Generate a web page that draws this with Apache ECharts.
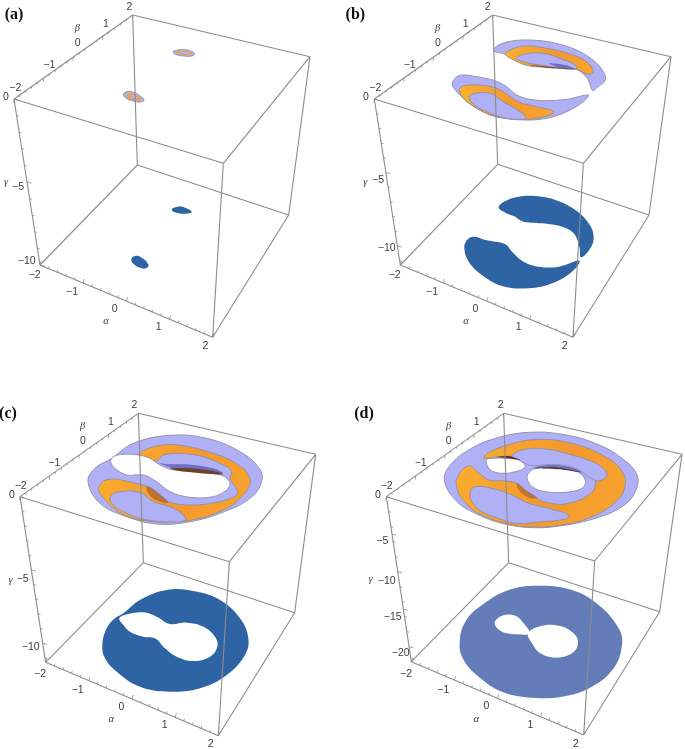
<!DOCTYPE html>
<html><head><meta charset="utf-8">
<style>html,body{margin:0;padding:0;background:#fff}#c{width:685px;height:749px;filter:blur(0.45px)}</style>
<script src="https://cdn.jsdelivr.net/npm/echarts@6/dist/echarts.min.js"></script>
</head><body><div id="c"></div>
<script>
// ---- panel frames: cube corners [x,y] (units: 1/3 px of each panel)
// order: backTop, rightTop, frontTop, leftTop, backBottom, rightBottom, frontBottom, leftBottom
const cubeA=[[398,45],[930,170],[670,490],[42,297],[412,495],[866,645],[638,1012],[120,795]];
const cubeB=[[452,45],[987,170],[724,490],[97,297],[467,493],[921,645],[693,1012],[175,795]];
const cubeC=[[415,115],[947,238],[688,560],[60,365],[430,563],[884,713],[655,1082],[137,862]];
const cubeD=[[485,115],[1020,238],[758,558],[133,365],[500,563],[953,710],[725,1080],[208,860]];

// ---- tick labels
const labelsA=[["2",388,20],["1",318,72],["0",233,128],["−1",148,194],["−2",46,264],["0",18,290],["−5",54,560],["−10",80,782],["−2",104,826],["−1",216,876],["0",344,926],["1",476,982],["2",616,1038]];
const labelsB=[["2",437,20],["1",371,72],["0",288,128],["−1",203,194],["−2",100,264],["0",72,290],["−5",108,540],["−10",134,745],["−2",158,826],["−1",270,876],["0",400,926],["1",530,982],["2",668,1038]];
const labelsC=[["2",403,90],["1",333,142],["0",249,198],["−1",163,264],["−2",62,332],["0",36,360],["−5",68,612],["−10",92,815],["−2",120,896],["−1",233,946],["0",364,997],["1",494,1050],["2",632,1106]];
const labelsD=[["2",476,90],["1",404,142],["0",320,198],["−1",236,264],["−2",134,332],["0",108,360],["−5",121,497],["−10",134,617],["−15",152,727],["−20",176,835],["−2",192,896],["−1",304,946],["0",433,994],["1",565,1050],["2",702,1106]];
const axisNamesA=[["β",232,85],["γ",18,548],["α",318,964]];
const axisNamesB=[["β",287,85],["γ",70,548],["α",372,964]];
const axisNamesC=[["β",248,155],["γ",32,616],["α",334,1034]];
const axisNamesD=[["β",320,155],["γ",86,612],["α",403,1034]];

// ---- minor-tick counts along γ for each panel
const gammaTicksA=[0,-1,-2,-3,-4,-5,-6,-7,-8,-9,-10];
const gammaTicksB=[0,-1,-2,-3,-4,-5,-6,-7,-8,-9,-10,-11];
const gammaTicksC=[0,-1,-2,-3,-4,-5,-6,-7,-8,-9,-10,-11];
const gammaTicksD=[0,-2,-4,-5,-6,-8,-10,-12,-14,-15,-16,-18,-20,-22];
const abTicks=[-2,-1.8,-1.6,-1.4,-1.2,-1,-.8,-.6,-.4,-.2,0,.2,.4,.6,.8,1,1.2,1.4,1.6,1.8,2];

// ---- contour outlines, panel a
const aPurple=[[[519,156],[530,151],[550,149],[572,153],[584,162],[575,168],[552,168],[530,164]],[[370,283],[380,275],[400,277],[420,288],[432,300],[420,306],[400,303],[380,296]]];
const aOrange=[[[527,156],[545,152],[565,155],[577,162],[560,165],[540,163]],[[378,285],[392,280],[410,286],[425,299],[410,303],[390,297]]];
const aInner=[[[538,157],[552,155],[566,160],[552,162]],[[390,286],[402,286],[414,295],[402,297]]];
const aBlue=[[[515,629],[530,621],[555,623],[575,636],[555,641],[530,638]],[[394,778],[405,768],[425,773],[445,793],[440,804],[420,803],[402,793]]];
// panel b
const bPurple=[[[454,152],[469,135],[509,123],[564,120],[634,128],[704,150],[759,185],[784,215],[790,240],[766,262],[752,272],[739,240],[724,222],[700,207],[640,200],[570,192],[530,178],[490,162]],
 [[331,255],[339,235],[359,225],[404,230],[459,242],[494,260],[524,285],[564,298],[614,302],[674,298],[739,285],[724,305],[674,335],[614,355],[544,360],[464,350],[404,325],[354,285]]];
const bOrange=[[[489,162],[504,150],[549,138],[614,145],[684,162],[734,185],[754,215],[739,223],[709,210],[679,207],[614,202],[559,197],[519,182]],
 [[352,270],[364,258],[404,255],[454,262],[489,278],[529,305],[584,320],[636,335],[614,348],[556,358],[494,355],[444,345],[394,318],[364,295]]];
const bInner=[[[524,175],[549,162],[604,160],[654,175],[699,195],[702,208],[664,205],[594,195],[554,188]],
 [[382,290],[399,280],[444,280],[484,305],[534,335],[552,355],[494,355],[434,335],[394,312]]];
const bDarkPurple=[[[620,190],[670,195],[699,207],[650,202]]];
const bBrown=[[[560,194],[620,200],[700,207],[620,204]]];
const bBlue=[[[470,622],[490,603],[530,590],[580,588],[640,600],[700,630],[740,670],[755,710],[745,745],[717,772],[712,740],[695,700],[660,680],[600,670],[545,665],[515,648],[490,638]],
 [[367,745],[375,720],[395,710],[430,720],[490,733],[510,755],[545,785],[590,800],[650,800],[712,782],[690,815],[630,850],[560,865],[480,858],[420,825],[380,785]]];
// panel c
const cPurple=[[[264,320],[285,280],[335,250],[400,205],[510,181],[620,190],[720,230],[778,280],[785,320],[750,370],[660,415],[560,442],[470,447],[380,425],[300,385]]];
const cOrange=[[[295,345],[310,318],[345,312],[420,328],[455,340],[490,372],[530,387],[590,390],[660,380],[708,362],[712,345],[690,312],[695,290],[680,275],[610,245],[540,235],[490,240],[470,258],[415,238],[450,218],[510,208],[590,220],[680,250],[735,285],[752,320],[735,355],[690,395],[620,425],[560,438],[490,442],[420,435],[370,420],[325,385]]];
const cInner=[[[330,370],[350,352],[420,352],[460,380],[510,395],[550,420],[555,437],[490,440],[420,430],[370,410],[340,390]]];
const cDarkPurple=[[[480,265],[505,268],[560,268],[640,280],[670,295],[610,285],[520,280]]];
const cBrown=[[[510,280],[570,280],[640,288],[670,298],[620,296],[540,288]]];
const cShade=[[[440,335],[470,350],[505,382],[480,380],[450,362]]];
const cHole=[[[340,245],[370,238],[415,240],[450,250],[480,270],[520,285],[620,292],[670,303],[690,325],[680,345],[640,365],[570,367],[510,350],[470,320],[430,300],[380,300],[345,280],[332,260]]];
const cBlue=[[[307,810],[320,760],[345,730],[370,715],[420,675],[500,645],[580,648],[660,675],[720,730],[745,790],[735,840],[680,900],[600,940],[510,950],[420,935],[350,890],[315,850]]];
const cBlueHole=[[[358,730],[385,717],[430,712],[470,725],[510,747],[560,743],[610,755],[645,785],[652,815],[630,845],[580,858],[530,845],[495,820],[465,790],[430,785],[390,770],[370,750]]];
// panel d
const dPurple=[[[307,315],[325,270],[380,225],[460,190],[560,172],[660,178],[760,205],[840,250],[885,300],[880,350],[840,395],[760,430],[660,452],[570,458],[480,445],[400,415],[340,375]]];
const dOrange=[[[425,250],[440,232],[490,212],[560,195],[640,195],[740,220],[820,265],[850,310],[840,360],[790,405],[710,440],[620,455],[540,455],[470,440],[400,410],[355,365],[342,320],[360,285],[385,272],[405,290],[440,315],[495,318],[525,325],[550,345],[600,378],[660,388],[720,372],[755,345],[760,315],[730,290],[640,262],[560,262],[520,245],[470,245]]];
const dInner=[[[510,245],[540,225],[610,222],[690,240],[770,270],[795,300],[770,318],[740,305],[700,280],[640,268],[570,272],[550,265]],
 [[385,350],[400,335],[450,340],[510,360],[560,385],[620,400],[680,420],[670,432],[600,440],[520,445],[470,430],[420,410],[390,380]]];
const dDarkPurple=[[[575,278],[620,270],[680,275],[720,292],[660,282]]];
const dBrown=[[[465,246],[500,243],[535,255],[500,250]],[[570,280],[640,277],[722,293],[650,283]]];
const dShade=[[[525,325],[550,345],[585,368],[560,368],[530,345]]];
const dHole=[[[432,255],[450,250],[490,250],[530,255],[550,275],[520,290],[480,295],[445,285]],[[555,305],[575,282],[640,277],[700,287],[730,315],[720,340],[670,352],[610,350],[570,335]]];
const dBlue=[[[353,805],[370,740],[420,690],[500,645],[590,632],[690,645],[770,690],[830,760],[840,810],[815,880],[750,935],[660,965],[570,968],[480,950],[410,905],[365,855]]];
const dBlueHole=[[[458,745],[480,722],[520,722],[545,745],[562,775],[525,778],[480,770]],[[558,775],[590,755],[650,752],[695,775],[708,805],[690,835],[640,848],[595,835],[570,805]]];

const PURPLE='#b0b0f6',ORANGE={type:'linear',x:0,y:0,x2:1,y2:1,colorStops:[{offset:0,color:'#fdb02e'},{offset:.55,color:'#f3982e'},{offset:1,color:'#f8a52d'}]};
const BLUE='#2e64a3',BLUE_D='#647cb8',EDGE='#8f8fa6',LINE='#8c8c8c';

const panels=[
 {cube:cubeA,labels:labelsA,names:axisNamesA,gamma:gammaTicksA,gmin:-10,majors:[0,-5,-10],title:'(a)',tx:20,ty:46,
  box:{left:0,top:0,width:342,height:370},
  layers:[[aBlue,BLUE,null,.5],[aPurple,PURPLE,EDGE,.5],[aOrange,'#f0a040',null,.5],[aInner,PURPLE,null,.5]]},
 {cube:cubeB,labels:labelsB,names:axisNamesB,gamma:gammaTicksB,gmin:-11.3,majors:[0,-5,-10],title:'(b)',tx:18,ty:46,
  box:{left:342,top:0,width:343,height:370},
  layers:[[bBlue,BLUE,null,.4],[bPurple,PURPLE,EDGE,.35],[bOrange,ORANGE,EDGE,.4],[bInner,PURPLE,EDGE,.4],[bDarkPurple,'#6e6ec4',null,.3],[bBrown,'#7a4a2c',null,.3]]},
 {cube:cubeC,labels:labelsC,names:axisNamesC,gamma:gammaTicksC,gmin:-11.3,majors:[0,-5,-10],title:'(c)',tx:2,ty:118,
  box:{left:0,top:375,width:342,height:374},
  layers:[[cBlue,BLUE,null,.4],[cBlueHole,'#fff',null,.4],[cPurple,PURPLE,EDGE,.4],[cOrange,ORANGE,EDGE,.25],[cInner,PURPLE,EDGE,.4],[cShade,'rgba(140,80,40,.55)',null,.4],[cHole,'#fff',EDGE,.35],[cDarkPurple,'#6e6ec4',null,.3],[cBrown,'#6e4028',null,.3]]},
 {cube:cubeD,labels:labelsD,names:axisNamesD,gamma:gammaTicksD,gmin:-22,majors:[0,-5,-10,-15,-20],title:'(d)',tx:44,ty:118,
  box:{left:342,top:375,width:343,height:374},
  layers:[[dBlue,BLUE_D,null,.4],[dBlueHole,'#fff',null,.4],[dPurple,PURPLE,EDGE,.4],[dOrange,ORANGE,EDGE,.25],[dInner,PURPLE,EDGE,.4],[dShade,'rgba(140,80,40,.5)',null,.4],[dHole,'#fff',EDGE,.35],[dDarkPurple,'#6e6ec4',null,.3],[dBrown,'#5a3320',null,.3]]}
];

const EDGES=[[0,1],[1,2],[2,3],[3,0],[4,5],[5,6],[6,7],[7,4],[0,4],[1,5],[2,6],[3,7]];

function polyItem(pts,fill,stroke,smooth,api){
  return {type:'polygon',shape:{points:pts.map(p=>api.coord(p)),smooth:smooth},
    style:{fill:fill,stroke:stroke||null,lineWidth:stroke?0.9:0}};
}
function segs(p){
  const c=p.cube,out=[];
  EDGES.forEach(e=>out.push([c[e[0]],c[e[1]],LINE,1.1]));
  const mix=(a,b,t)=>[a[0]+(b[0]-a[0])*t,a[1]+(b[1]-a[1])*t];
  abTicks.forEach(v=>{
    const t=(v+2)/4, major=Number.isInteger(v);
    const b=mix(c[3],c[0],t), a=mix(c[7],c[6],t), L=major?14:8;
    out.push([b,[b[0]-1,b[1]+L*.8],LINE,.8]);
    out.push([a,[a[0]+L*.25,a[1]-L*.85],LINE,.8]);
  });
  p.gamma.forEach(v=>{
    const t=v/p.gmin, g=mix(c[3],c[7],t), L=p.majors.includes(v)?13:7;
    out.push([g,[g[0]+L,g[1]+L*.25],LINE,.8]);
  });
  return out;
}

const option={animation:false,backgroundColor:'#fff',grid:[],xAxis:[],yAxis:[],series:[]};
panels.forEach((p,i)=>{
  const w=p.box.width*3,h=p.box.height*3;
  option.grid.push(p.box);
  option.xAxis.push({type:'value',gridIndex:i,min:0,max:w,show:false});
  option.yAxis.push({type:'value',gridIndex:i,min:0,max:h,inverse:true,show:false});
  // filled contours
  const items=[];
  p.layers.forEach(l=>l[0].forEach(poly=>items.push({poly,fill:l[1],stroke:l[2],sm:l[3]})));
  option.series.push({type:'custom',xAxisIndex:i,yAxisIndex:i,silent:true,clip:false,z:2,
    coordinateSystem:'cartesian2d',encode:{x:0,y:1},
    data:items.map((_,k)=>[k,k]),
    renderItem:(params,api)=>{const it=items[params.dataIndex];return polyItem(it.poly,it.fill,it.stroke,it.sm,api);}});
  // box edges and ticks
  const ss=segs(p);
  option.series.push({type:'custom',xAxisIndex:i,yAxisIndex:i,silent:true,clip:false,z:3,
    encode:{x:0,y:1},data:ss.map((_,k)=>[k,k]),
    renderItem:(params,api)=>{const s=ss[params.dataIndex],a=api.coord(s[0]),b=api.coord(s[1]);
      return {type:'line',shape:{x1:a[0],y1:a[1],x2:b[0],y2:b[1]},style:{stroke:s[2],lineWidth:s[3]}};}});
  // tick labels
  const text=(rows,font,color)=>({type:'custom',xAxisIndex:i,yAxisIndex:i,silent:true,clip:false,z:4,
    encode:{x:1,y:2},data:rows,
    renderItem:(params,api)=>{const r=rows[params.dataIndex],q=api.coord([r[1],r[2]]);
      return {type:'text',x:q[0],y:q[1],style:{text:r[0],font:font,fill:color,align:'center',verticalAlign:'middle'}};}});
  option.series.push(text(p.labels,'10.5px "Liberation Sans"','#3c3c3c'));
  option.series.push(text(p.names,'italic 10.5px "Liberation Serif"','#3c3c3c'));
  option.series.push(Object.assign(text([[p.title,p.tx+22,p.ty]],'bold 16px "Liberation Serif"','#111')));
});
const chart=echarts.init(document.getElementById('c'),null,{renderer:'canvas'});
chart.setOption(option);
</script></body></html>
